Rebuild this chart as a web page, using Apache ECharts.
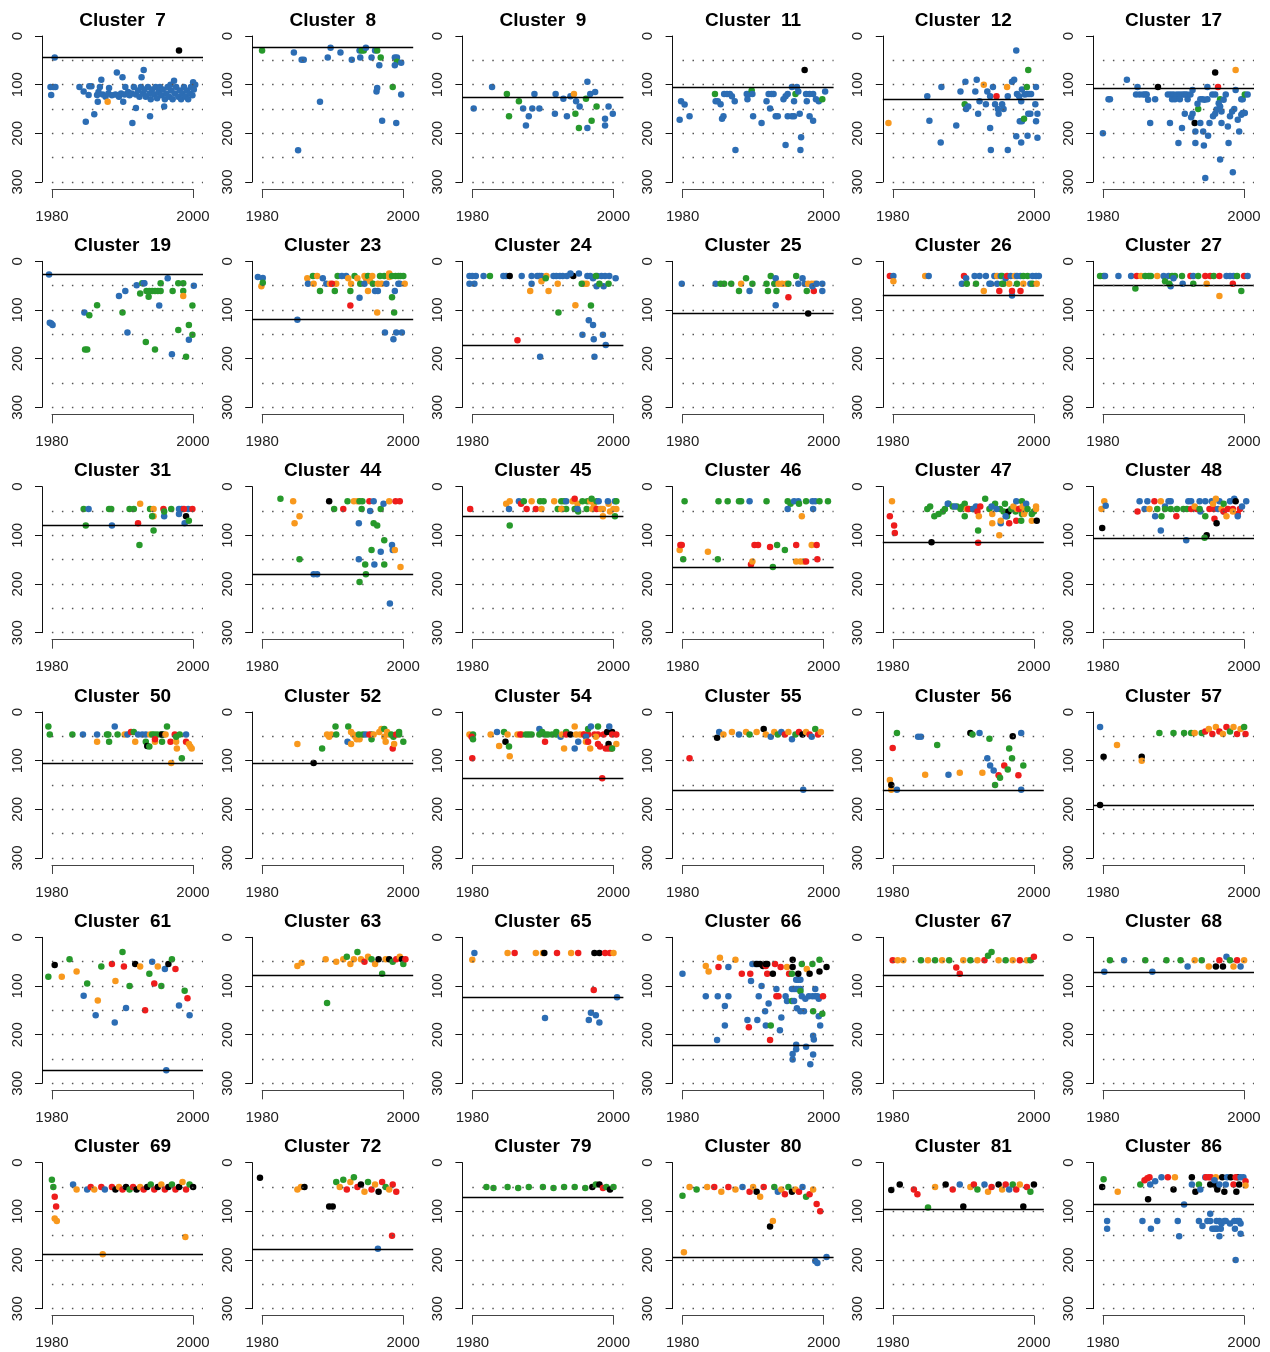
<!DOCTYPE html>
<html>
<head>
<meta charset="utf-8">
<script src="https://cdn.jsdelivr.net/npm/echarts@6.0.0/dist/echarts.min.js"></script>
<style>
html, body { margin: 0; padding: 0; background: #fff; }
#main { width: 1270px; height: 1352px; }
</style>
</head>
<body>
<div id="main"></div>
<script>
// panels, in reading order
var clusterIds = [7, 8, 9, 11, 12, 17, 19, 23, 24, 25, 26, 27, 31, 44, 45, 46, 47, 48,
  50, 52, 54, 55, 56, 57, 61, 63, 65, 66, 67, 68, 69, 72, 79, 80, 81, 86]
// value of the solid horizontal line in each panel
var cutoffs = [44, 24, 125, 105, 130, 107, 27, 120, 172, 106, 70, 50, 80, 180, 61, 165, 115, 105,
  105, 105, 136, 160, 160, 191, 273, 77, 123, 221, 77, 71, 188, 177, 71, 194, 95, 86]
var yTicks = [0, 100, 200, 300]
var xTicks = [1980, 2000]
var dottedAt = [50, 100, 150, 200, 250, 300]
// point = [year, value, colour code] ; 0 blue, 1 green, 2 orange, 3 red, 4 black
var c7 = [[1998.0,30,4],[1980.4,44,0],[1979.8,105,0],[1980.2,105,0],[1980.5,105,0],[1979.9,121,0],
  [1983.9,105,0],[1984.5,114,0],[1985.2,121,0],[1985.3,103,0],[1985.6,103,0],[1984.8,176,0],[1986.0,161,0],
  [1986.5,135,0],[1987.0,90,0],[1986.4,121,0],[1986.8,105,0],[1988.1,107,0],[1989.2,75,0],[1990.0,85,0],
  [1990.4,105,0],[1990.1,135,0],[1991.4,179,0],[1991.9,148,0],[1992.7,85,0],[1993.0,70,0],[1993.9,165,0],
  [1995.9,145,0],[1997.3,92,0],[2000.0,95,0],
  [1986.6,115,0],[1987.2,120,0],[1987.6,125,0],[1988.0,118,0],[1988.5,122,0],[1989.0,120,0],[1989.5,125,0],
  [1989.8,118,0],[1990.3,120,0],[1990.8,115,0],[1991.0,122,0],[1991.3,118,0],[1991.6,105,0],[1991.9,120,0],
  [1992.2,112,0],[1992.4,125,0],[1992.6,105,0],[1992.9,118,0],[1993.1,110,0],[1993.3,125,0],[1993.6,105,0],
  [1993.8,118,0],[1994.0,130,0],[1994.2,110,0],[1994.5,120,0],[1994.7,105,0],[1994.9,128,0],[1995.1,115,0],
  [1995.3,105,0],[1995.5,122,0],[1995.7,110,0],[1996.0,130,0],[1996.2,118,0],[1996.4,105,0],[1996.6,125,0],
  [1996.9,112,0],[1997.1,130,0],[1997.4,118,0],[1997.6,105,0],[1997.9,125,0],[1998.1,112,0],[1998.3,130,0],
  [1998.5,118,0],[1998.7,105,0],[1998.9,125,0],[1999.1,112,0],[1999.3,130,0],[1999.5,118,0],[1999.7,105,0],
  [1999.9,122,0],[2000.1,110,0],[2000.3,100,0],[1996.8,100,0],[1987.9,135,2]]
var c8 = [[1980,30,1],[1984.5,34,0],[1985.6,49,0],[1985.9,49,0],[1988.2,135,0],[1989.3,44,0],[1989.7,24,0],
  [1991.1,34,0],[1992.7,49,0],[1993.9,44,0],[1993.8,30,0],[1994.1,30,1],[1994.4,30,1],[1994.7,24,0],[1995.5,44,0],
  [1996.0,30,0],[1996.3,30,1],[1996.8,44,1],[1996.3,107,0],[1996.2,114,0],[1996.6,60,0],[1997.0,174,0],
  [1998.8,44,0],[1999.1,44,0],[1998.5,105,1],[1999.1,53,1],[1998.8,60,0],[1999.7,55,0],[1999.7,120,0],
  [1999.0,179,0],[1985.1,235,0]]
var c9 = [[1980.2,149,0],[1982.8,105,0],[1984.9,119,1],[1985.2,165,1],[1986.6,134,1],[1987.2,149,0],[1987.6,184,0],
  [1988.0,165,0],[1988.5,149,0],[1988.8,119,0],[1989.5,149,0],[1991.7,160,0],[1991.8,119,0],[1992.9,129,0],
  [1993.4,165,0],[1993.9,124,0],[1994.4,119,2],[1994.7,134,0],[1994.6,160,1],[1995.2,145,0],[1995.1,189,1],
  [1996.1,129,1],[1996.3,94,0],[1996.3,189,0],[1996.7,119,0],[1997.4,115,0],[1996.9,174,1],[1997.6,145,1],
  [1998.8,170,0],[1998.8,184,0],[1999.3,145,0],[1999.9,160,0]]
var c11 = [[1979.8,134,0],[1980.3,141,0],[1979.6,172,0],[1981.0,165,0],[1984.6,119,1],[1984.7,134,0],[1985.0,134,0],
  [1985.4,140,0],[1985.6,170,0],[1985.8,165,0],[1985.9,119,0],[1986.3,119,0],[1986.7,119,0],[1987.0,124,0],
  [1987.4,134,0],[1987.5,234,0],[1989.1,119,0],[1989.4,119,0],[1989.2,130,0],[1989.8,112,1],[1989.9,119,0],
  [1990.0,165,0],[1991.2,179,0],[1991.9,134,0],[1992.2,119,0],[1992.6,119,0],[1992.9,119,0],[1992.4,149,0],
  [1993.2,165,0],[1993.5,165,0],[1994.3,130,0],[1994.6,124,0],[1994.9,119,0],[1994.6,224,0],[1994.9,165,0],
  [1995.5,165,0],[1995.8,165,0],[1995.5,105,0],[1995.8,134,0],[1996.0,119,1],[1996.2,105,0],[1996.4,114,0],
  [1996.6,160,0],[1996.8,208,0],[1996.7,234,0],[1997.3,70,4],[1997.5,119,0],[1997.6,134,0],[1998.0,119,0],
  [1998.5,119,0],[1998.0,165,0],[1998.5,174,0],[1998.9,130,0],[1999.3,134,0],[1999.8,130,1],[2000.2,114,0]]
var c12 = [[1979.4,179,2],[1984.9,124,0],[1985.2,174,0],[1986.9,105,0],[1986.8,219,0],[1989.0,184,0],[1989.6,114,0],
  [1990.2,140,1],[1990.3,94,0],[1990.4,150,0],[1990.7,145,0],[1991.7,114,0],[1991.9,90,0],[1992.1,160,0],
  [1992.3,134,0],[1992.9,100,2],[1993.2,140,0],[1993.4,114,0],[1993.8,124,0],[1993.8,189,0],[1993.9,234,0],
  [1994.2,105,0],[1994.5,140,0],[1994.9,150,0],[1995.0,160,0],[1994.7,124,3],[1995.5,140,0],[1995.7,150,0],
  [1996.2,105,2],[1996.3,124,0],[1996.3,234,0],[1996.9,94,0],[1997.2,90,0],[1997.5,30,0],[1997.6,119,0],
  [1997.9,124,0],[1998.2,134,0],[1997.5,206,0],[1998.0,175,0],[1998.3,175,0],[1998.2,219,0],[1998.6,170,1],
  [1998.3,110,0],[1998.7,120,0],[1999.2,70,1],[1999.0,105,1],[1999.0,119,0],[1999.3,119,0],[1999.6,119,0],
  [1999.2,160,0],[1999.5,160,0],[1999.1,205,0],[2000.2,140,0],[2000.3,105,0],[2000.5,160,0],[2000.3,175,0],
  [2000.5,209,0]]
var c17 = [[1980.0,200,0],[1980.8,130,0],[1981.0,130,0],[1983.4,90,0],[1984.9,105,0],[1984.7,120,0],[1985.2,120,0],
  [1985.7,120,0],[1986.0,120,0],[1986.2,120,0],[1986.4,131,0],[1986.7,179,0],[1987.4,130,0],[1987.8,105,4],
  [1989.2,120,0],[1989.6,120,0],[1990.0,120,0],[1990.5,120,0],[1990.9,120,0],[1991.3,120,0],[1991.6,120,0],
  [1991.9,120,0],[1989.8,130,0],[1990.2,130,0],[1990.9,130,0],[1989.5,179,0],[1990.7,220,0],[1991.2,189,0],
  [1991.6,160,0],[1992.0,130,0],[1992.4,120,0],[1992.7,111,0],[1992.5,167,0],[1992.7,160,0],[1993.0,179,4],
  [1993.1,196,0],[1993.1,220,0],[1993.5,150,1],[1993.4,139,0],[1993.8,130,0],[1994.1,130,0],[1994.4,131,0],
  [1994.8,130,0],[1993.8,179,0],[1994.2,196,0],[1994.3,225,0],[1994.5,292,0],[1994.8,105,0],[1995.1,179,0],
  [1994.9,205,0],[1995.5,120,0],[1995.9,120,0],[1995.6,165,0],[1995.9,160,0],[1996.1,151,0],[1995.9,75,4],
  [1996.3,105,3],[1996.6,130,1],[1996.4,138,0],[1996.6,145,0],[1996.8,155,0],[1996.6,254,0],[1996.8,179,0],
  [1997.1,131,0],[1997.4,120,0],[1997.7,186,0],[1997.8,220,0],[1998.0,165,0],[1998.3,155,0],[1998.4,280,0],
  [1998.8,70,2],[1998.8,111,0],[1998.6,150,0],[1999.1,172,0],[1999.3,196,0],[1999.6,130,0],[1999.8,130,0],
  [1999.6,162,0],[1999.8,158,0],[2000.1,158,0],[2000.1,120,1],[2000.5,120,0]]
var c19 = [[1979.6,27,0],[1979.7,126,0],[1979.9,128,0],[1980.1,131,0],[1984.6,105,0],[1984.7,181,1],[1985.0,181,1],
  [1985.3,111,1],[1986.4,90,1],[1989.5,71,0],[1990.0,105,1],[1990.4,61,0],[1990.7,146,0],[1992.0,49,0],[1992.5,66,1],
  [1992.8,45,1],[1993.0,45,0],[1993.1,45,0],[1993.3,166,1],[1993.7,73,1],[1993.4,61,1],[1993.8,61,1],[1994.2,61,1],
  [1994.6,61,1],[1995.0,61,1],[1995.4,61,1],[1994.6,181,1],[1995.2,91,0],[1995.4,45,1],[1996.4,35,0],[1997.1,61,1],
  [1997.0,191,0],[1997.9,141,1],[1997.9,45,1],[1998.6,45,1],[1998.6,61,1],[1998.6,71,2],[1999.0,196,1],[1999.4,161,0],
  [1999.4,131,1],[1999.9,151,1],[1999.9,91,1],[2000.1,50,0]]
var c23 = [[1979.4,32,0],[1980.1,34,0],[1979.9,51,2],[1980.1,44,1],[1985.0,120,0],[1986.4,35,2],[1986.5,46,0],
  [1987.3,46,2],[1987.2,30,1],[1987.8,30,2],[1988.6,35,0],[1988.2,61,1],[1989.1,46,0],[1989.6,46,2],[1990.5,46,2],
  [1989.9,46,3],[1990.3,61,1],[1990.7,30,1],[1991.3,30,0],[1991.9,30,0],[1992.2,35,2],[1992.5,91,3],[1992.5,61,1],
  [1992.6,46,2],[1993.1,30,1],[1993.5,35,2],[1993.8,75,0],[1993.9,46,1],[1994.5,30,2],[1994.7,35,2],[1994.5,46,0],
  [1995.0,30,1],[1995.0,61,2],[1995.3,41,2],[1995.6,30,2],[1995.7,46,1],[1996.0,61,0],[1996.4,61,0],[1996.3,105,2],
  [1996.4,46,2],[1996.9,46,2],[1996.7,30,1],[1997.3,30,1],[1997.6,46,0],[1997.4,146,0],[1998.0,25,2],[1998.0,32,2],
  [1998.4,30,1],[1998.9,30,1],[1999.3,30,1],[1999.6,30,1],[2000.0,30,1],[1998.4,74,1],[1998.7,105,1],[1998.6,160,0],
  [1998.8,61,0],[1999.0,146,0],[1999.8,146,0],[1999.3,46,0],[1999.5,46,0],[2000.2,46,2]]
var c24 = [[1979.6,30,0],[1980.0,30,0],[1980.5,30,0],[1979.6,46,0],[1980.3,46,0],[1981.6,30,0],[1982.5,30,1],
  [1984.4,30,0],[1984.8,30,0],[1985.3,30,4],[1986.4,162,3],[1987.0,30,0],[1988.2,61,2],[1988.4,46,0],[1988.4,30,0],
  [1989.2,30,0],[1989.5,30,0],[1989.8,30,0],[1989.8,41,2],[1989.6,196,0],[1990.5,30,2],[1990.4,35,1],[1990.8,61,2],
  [1991.5,30,0],[1991.9,30,0],[1992.4,30,0],[1992.8,30,0],[1993.4,30,0],[1992.1,46,2],[1992.2,105,1],[1994.3,30,4],
  [1993.9,25,0],[1995.1,25,0],[1994.6,90,2],[1995.6,151,0],[1995.8,46,2],[1996.2,46,2],[1995.5,46,1],[1996.3,30,0],
  [1996.7,30,0],[1997.1,35,0],[1997.7,30,0],[1998.3,30,0],[1998.8,30,0],[1999.4,30,0],[1996.8,91,1],[1996.5,121,0],
  [1997.1,131,0],[1997.2,160,0],[1997.3,196,0],[1997.5,30,1],[1997.6,51,0],[1998.6,51,0],[1998.0,46,1],[1999.3,46,1],
  [1998.5,151,0],[1998.9,172,0],[2000.3,35,0]]
var c25 = [[1979.9,46,0],[1984.7,46,0],[1985.4,46,1],[1985.9,46,1],[1986.9,46,1],[1988.3,46,2],[1988.0,61,1],
  [1989.0,35,1],[1989.5,61,0],[1989.9,46,1],[1991.9,46,1],[1992.1,61,1],[1992.5,30,1],[1993.0,46,1],[1993.3,61,1],
  [1993.2,35,0],[1993.2,90,0],[1993.6,46,2],[1994.1,46,2],[1994.7,46,2],[1995.0,46,1],[1995.0,74,3],[1996.1,30,1],
  [1996.4,46,0],[1997.0,35,0],[1997.3,46,0],[1997.6,61,1],[1997.8,46,2],[1998.3,46,2],[1998.7,46,2],[1997.8,107,4],
  [1998.6,61,3],[1998.4,51,0],[1999.0,46,0],[1999.8,46,0],[1999.8,61,0]]
var c26 = [[1979.6,30,3],[1980.1,30,0],[1980.1,41,2],[1984.6,30,2],[1985.1,30,0],[1989.8,46,0],[1990.1,30,3],
  [1990.4,35,0],[1990.5,46,1],[1991.6,30,0],[1992.3,30,0],[1991.8,46,1],[1992.9,61,2],[1993.2,30,0],[1993.7,46,0],
  [1993.9,46,0],[1994.4,30,0],[1994.8,30,2],[1994.8,46,0],[1995.1,61,3],[1995.3,30,0],[1995.5,30,1],[1995.5,46,1],
  [1995.7,46,1],[1996.0,35,0],[1996.2,30,3],[1996.5,46,2],[1996.7,30,0],[1996.9,70,0],[1996.9,61,3],[1997.3,30,2],
  [1997.6,46,1],[1997.6,30,0],[1998.1,30,0],[1998.1,61,3],[1998.5,46,2],[1998.5,30,1],[1999.1,30,1],[1999.5,46,0],
  [1999.8,46,1],[1999.8,30,0],[2000.3,30,0],[2000.7,30,0],[2000.4,46,2]]
var c27 = [[1979.6,30,1],[1980.1,30,1],[1980.3,30,0],[1982.2,30,0],[1984.0,30,0],[1984.8,30,3],[1984.6,56,1],
  [1985.4,30,2],[1986.0,30,1],[1986.5,30,1],[1986.8,30,1],[1987.7,30,2],[1988.6,30,0],[1988.8,41,1],[1989.3,30,0],
  [1989.6,51,0],[1989.4,46,1],[1989.8,30,1],[1990.2,30,1],[1990.0,35,0],[1991.2,30,1],[1991.3,46,0],[1992.4,30,3],
  [1992.8,46,1],[1992.8,30,0],[1993.5,30,1],[1994.7,46,2],[1994.5,30,3],[1995.2,30,3],[1995.7,30,1],[1996.5,30,3],
  [1996.5,71,2],[1997.5,30,0],[1998.0,30,0],[1998.5,30,0],[1998.4,46,3],[1999.0,30,1],[1999.6,61,1],[2000.0,30,3],
  [2000.5,30,0]]
var c31 = [[1984.5,46,1],[1985.2,46,0],[1984.8,80,1],[1988.1,46,1],[1988.4,46,1],[1988.5,80,0],[1991.0,46,1],
  [1991.6,46,1],[1992.5,35,2],[1992.2,75,3],[1992.4,120,1],[1993.9,46,1],[1994.4,46,2],[1994.4,61,2],[1994.2,61,1],
  [1994.4,90,1],[1995.8,46,3],[1995.9,61,0],[1995.9,51,1],[1996.9,46,1],[1998.0,46,0],[1998.0,56,0],[1998.4,46,0],
  [1999.3,46,0],[1998.7,46,3],[1999.9,46,3],[1998.8,75,0],[1999.0,61,4],[1999.4,70,1]]
var c44 = [[1982.6,25,1],[1984.4,30,2],[1984.6,75,2],[1985.3,61,2],[1985.3,149,1],[1987.3,180,0],[1987.8,180,0],
  [1989.5,30,4],[1990.2,46,1],[1991.5,46,3],[1992.1,30,1],[1993.0,30,2],[1993.5,30,2],[1993.8,30,1],[1994.2,30,1],
  [1993.7,75,0],[1993.7,149,0],[1993.8,196,1],[1994.1,46,1],[1994.6,160,1],[1994.7,180,1],[1995.2,30,3],[1995.8,30,0],
  [1995.3,50,0],[1995.5,130,1],[1995.8,75,1],[1996.3,80,1],[1995.9,160,0],[1996.8,134,0],[1996.8,46,1],[1997.2,35,0],
  [1997.3,160,1],[1997.3,110,1],[1998.0,30,2],[1998.9,30,3],[1999.5,30,3],[1998.4,120,0],[1998.5,130,0],[1998.8,130,2],
  [1998.1,240,0],[1999.6,165,2]]
var c45 = [[1979.7,46,3],[1984.8,35,2],[1985.3,30,2],[1985.2,46,0],[1985.3,80,1],[1986.6,30,0],[1986.9,35,3],
  [1987.3,30,1],[1987.7,46,3],[1988.4,30,2],[1989.0,46,3],[1989.6,30,1],[1990.1,30,1],[1989.8,46,2],[1991.6,30,2],
  [1992.1,46,1],[1992.7,46,1],[1993.3,46,1],[1992.6,30,1],[1993.0,30,1],[1993.3,30,0],[1992.6,46,2],[1994.2,30,2],
  [1994.9,35,2],[1994.5,25,3],[1994.5,46,1],[1995.0,51,1],[1994.9,46,0],[1995.6,30,1],[1996.3,30,1],[1996.2,46,1],
  [1996.7,30,2],[1997.2,35,2],[1996.9,25,1],[1997.0,46,2],[1997.6,30,1],[1997.6,46,3],[1997.9,30,0],[1998.2,46,2],
  [1998.5,46,2],[1998.5,61,2],[1999.3,35,2],[1999.5,51,2],[1999.2,30,0],[2000.2,30,0],[2000.4,30,1],[2000.2,61,1],
  [2000.0,46,2],[2000.4,46,2]]
var c46 = [[1980.3,30,1],[1979.6,130,2],[1979.7,120,3],[1979.9,120,3],[1980.1,149,1],[1983.6,134,2],[1985.1,30,1],
  [1986.4,30,1],[1985.0,149,1],[1988.0,30,1],[1988.3,30,1],[1989.5,30,0],[1989.7,160,3],[1989.9,154,2],[1990.2,120,3],
  [1990.7,120,3],[1991.9,30,1],[1992.4,124,3],[1992.8,165,1],[1993.4,120,1],[1994.5,130,1],[1994.9,30,1],[1995.3,35,1],
  [1994.9,46,0],[1995.8,30,0],[1996.4,30,0],[1996.1,120,3],[1996.1,154,2],[1996.7,154,2],[1997.2,154,2],[1996.5,35,1],
  [1997.5,30,1],[1996.9,61,2],[1997.5,154,3],[1998.3,120,2],[1998.4,30,0],[1998.8,30,0],[1998.5,46,0],[1999.0,120,3],
  [1999.1,149,3],[1999.4,30,1],[2000.6,30,1]]
var c47 = [[1979.9,30,2],[1979.6,61,3],[1980.2,80,3],[1980.3,95,3],[1984.9,46,1],[1985.3,41,1],[1985.5,114,4],
  [1985.9,61,1],[1986.5,56,1],[1987.1,51,1],[1987.4,46,1],[1987.9,35,1],[1987.8,35,0],[1988.5,41,1],[1989.1,41,1],
  [1989.6,46,1],[1989.9,41,1],[1988.8,41,0],[1990.2,61,1],[1990.2,35,1],[1990.8,46,1],[1991.3,46,1],[1990.5,46,2],
  [1990.7,46,3],[1991.4,46,0],[1991.8,41,0],[1992.0,51,3],[1992.1,115,3],[1992.1,90,1],[1992.4,41,3],[1992.2,61,2],
  [1993.1,25,1],[1993.7,46,1],[1994.5,35,1],[1995.2,46,1],[1994.0,41,0],[1994.7,46,0],[1994.1,56,2],[1994.1,75,2],
  [1995.1,100,2],[1995.3,75,0],[1995.3,70,2],[1995.7,51,1],[1995.9,35,1],[1996.2,61,1],[1996.4,51,4],[1996.0,61,0],
  [1996.5,75,3],[1996.8,46,1],[1997.4,51,1],[1997.9,46,1],[1998.3,56,1],[1997.1,41,2],[1997.6,46,2],[1997.5,70,3],
  [1997.5,30,0],[1997.9,46,3],[1998.2,70,1],[1998.3,30,1],[1998.4,41,2],[1998.6,56,2],[1998.7,51,2],[1998.9,35,0],
  [1999.1,46,1],[1999.7,56,1],[2000.0,51,1],[1999.7,70,2],[2000.3,41,2],[2000.3,46,2],[2000.4,70,4]]
var c48 = [[1979.8,46,2],[1980.2,30,2],[1980.4,39,0],[1979.9,85,4],[1984.9,51,3],[1985.2,30,0],[1985.9,46,0],
  [1986.6,46,2],[1986.3,30,0],[1987.3,30,3],[1987.4,61,0],[1987.7,46,1],[1988.2,30,2],[1988.2,90,0],[1988.3,61,1],
  [1988.8,41,0],[1989.3,30,0],[1989.6,30,0],[1988.8,46,1],[1989.6,46,1],[1990.5,46,1],[1990.4,61,3],[1991.4,46,1],
  [1991.9,46,1],[1991.8,110,0],[1992.1,30,0],[1992.5,30,0],[1993.7,30,0],[1994.5,30,0],[1993.8,51,0],[1992.5,46,3],
  [1993.3,46,3],[1993.0,41,2],[1993.7,46,1],[1994.5,61,1],[1994.7,100,4],[1994.4,105,1],[1995.1,46,3],[1995.7,46,3],
  [1995.4,30,0],[1996.5,30,0],[1995.6,35,2],[1996.0,25,2],[1995.8,66,3],[1996.1,75,4],[1996.3,46,0],[1997.1,51,0],
  [1996.8,46,2],[1997.1,35,1],[1997.1,51,3],[1997.7,46,3],[1997.5,61,2],[1998.0,30,0],[1998.6,25,0],[1998.4,46,3],
  [1999.1,56,3],[1998.8,30,4],[1999.1,61,0],[1999.4,46,3],[1998.4,51,2],[1999.7,41,0],[2000.3,30,0]]
var c50 = [[1979.5,30,1],[1979.7,46,1],[1982.9,46,1],[1984.4,46,0],[1986.4,46,0],[1986.4,61,2],[1987.8,46,1],
  [1988.0,46,1],[1988.1,61,1],[1988.9,30,0],[1989.3,46,1],[1990.3,46,2],[1990.7,46,0],[1991.2,41,3],[1991.6,41,1],
  [1991.8,61,2],[1992.2,46,0],[1992.8,46,0],[1993.3,46,0],[1993.3,61,1],[1993.5,70,4],[1993.8,71,1],[1993.9,46,2],
  [1994.2,46,1],[1994.5,46,1],[1994.9,46,1],[1995.4,46,1],[1995.8,46,1],[1994.6,61,2],[1994.6,56,3],[1995.6,46,4],
  [1995.6,61,1],[1996.1,46,2],[1996.3,30,1],[1996.8,61,3],[1996.9,105,2],[1997.4,46,3],[1997.6,61,2],[1997.7,75,2],
  [1997.6,51,1],[1998.1,46,1],[1998.4,95,1],[1999.0,46,0],[1999.0,61,3],[1999.4,66,2],[1999.6,71,2],[1999.8,75,2]]
var c52 = [[1985.0,66,2],[1987.3,105,4],[1988.5,75,1],[1989.2,46,2],[1989.8,46,2],[1989.5,51,2],[1990.4,30,1],
  [1990.5,46,1],[1992.2,30,1],[1992.1,61,0],[1992.6,41,2],[1992.9,46,2],[1993.2,51,2],[1992.6,66,2],[1993.4,56,2],
  [1993.8,56,2],[1993.7,46,1],[1994.3,46,1],[1995.5,46,1],[1995.5,56,1],[1994.7,46,0],[1995.2,46,3],[1995.8,46,2],
  [1996.6,41,2],[1996.9,35,2],[1997.3,51,2],[1997.5,61,2],[1997.3,35,1],[1997.7,41,2],[1998.0,46,2],[1998.3,46,1],
  [1998.6,51,1],[1998.5,75,3],[1998.7,66,2],[1999.0,46,3],[1999.4,41,1],[1999.4,46,1],[2000.0,61,1]]
var c54 = [[1979.6,46,2],[1980.1,46,1],[1979.9,51,3],[1980.1,56,1],[1980.0,95,3],[1982.6,46,2],[1983.5,41,0],
  [1983.8,70,2],[1984.5,41,1],[1984.7,61,4],[1985.0,46,2],[1985.2,71,1],[1985.3,91,2],[1986.4,46,2],[1987.0,46,2],
  [1986.8,46,3],[1987.6,46,1],[1988.0,46,1],[1988.4,46,1],[1989.5,35,0],[1989.5,46,1],[1989.9,41,1],[1990.3,46,1],
  [1990.7,46,1],[1991.3,46,1],[1991.9,46,1],[1990.3,61,3],[1991.9,41,1],[1992.5,51,0],[1992.7,46,2],[1993.0,75,2],
  [1993.3,41,1],[1993.3,46,3],[1993.9,46,4],[1994.5,30,2],[1994.5,75,0],[1994.7,46,2],[1995.3,46,2],[1995.8,46,2],
  [1995.0,61,0],[1995.8,46,3],[1996.4,46,3],[1996.1,51,0],[1996.1,61,2],[1996.7,75,2],[1996.4,61,3],[1996.4,35,1],
  [1996.8,30,0],[1997.3,46,3],[1997.8,46,3],[1997.8,30,1],[1997.8,66,3],[1998.1,71,3],[1997.5,51,2],[1998.6,46,3],
  [1998.9,75,3],[1998.4,136,3],[1999.1,41,4],[1999.8,41,4],[1999.3,66,4],[1999.4,30,0],[1999.3,75,3],[1999.7,75,3],
  [1999.8,46,3],[2000.4,46,3],[2000.4,66,2],[1999.8,75,1]]
var c55 = [[1981.0,95,3],[1984.9,53,4],[1985.2,41,0],[1985.8,46,2],[1987.0,41,2],[1988.0,46,0],[1989.0,41,2],
  [1989.5,46,1],[1990.5,41,2],[1991.5,35,4],[1991.8,46,2],[1992.5,51,0],[1993.0,41,2],[1993.5,46,1],[1994.0,41,0],
  [1994.5,46,3],[1995.0,41,2],[1995.5,56,0],[1996.0,46,1],[1996.5,41,3],[1997.0,46,4],[1997.5,41,2],[1998.0,46,3],
  [1998.3,51,0],[1998.8,35,1],[1999.2,46,3],[1999.6,41,2],[1997.1,160,0]]
var c56 = [[1980.0,74,3],[1979.6,140,2],[1979.8,160,2],[1979.8,150,4],[1980.6,43,1],[1983.6,51,0],[1984.0,51,0],
  [1984.6,129,2],[1980.6,160,0],[1986.3,68,1],[1987.9,129,0],[1989.5,125,2],[1991.0,43,4],[1991.3,46,1],[1992.3,43,0],
  [1992.7,125,2],[1993.4,95,0],[1993.8,110,0],[1994.3,120,0],[1993.7,55,1],[1994.5,150,1],[1995.0,130,3],
  [1995.8,110,3],[1995.2,135,1],[1996.3,118,1],[1996.5,75,1],[1996.9,95,1],[1997.0,50,4],[1998.2,43,0],
  [1997.8,130,3],[1998.2,160,0],[1998.5,110,1]]
var c57 = [[1979.6,31,0],[1980.1,92,4],[1979.6,191,4],[1982.0,68,2],[1985.5,92,4],[1985.5,100,2],[1988.0,43,1],
  [1990.0,43,1],[1991.5,43,1],[1992.5,43,1],[1993.0,43,2],[1994.0,43,1],[1994.5,40,3],[1995.0,35,2],[1995.5,45,3],
  [1996.0,31,2],[1996.5,40,3],[1997.0,45,2],[1997.5,31,3],[1998.0,40,1],[1998.5,31,2],[1999.0,45,3],[1999.5,35,2],
  [2000.0,31,1],[2000.2,45,3]]
var c61 = [[1980.4,57,4],[1979.5,81,1],[1981.4,81,2],[1982.5,45,1],[1983.5,70,2],[1984.5,120,0],[1985.0,95,1],
  [1986.2,160,0],[1986.5,130,2],[1987.0,60,1],[1988.5,55,3],[1988.9,175,0],[1989.0,90,2],[1990.0,30,1],[1990.2,60,3],
  [1990.5,145,0],[1991.0,100,1],[1991.8,55,4],[1992.5,60,2],[1993.2,150,3],[1993.8,75,1],[1994.2,50,0],[1994.5,95,3],
  [1995.0,60,2],[1995.5,100,1],[1996.0,65,0],[1996.5,55,4],[1997.0,45,1],[1997.5,65,3],[1998.0,140,0],[1998.8,110,1],
  [1999.2,125,3],[1999.5,160,0],[1996.2,273,0]]
var c63 = [[1985.0,59,2],[1985.6,52,2],[1989.0,45,2],[1989.2,135,1],[1990.5,50,2],[1991.5,45,2],[1992.0,40,1],
  [1992.5,55,2],[1993.0,45,2],[1993.5,30,1],[1994.0,45,2],[1994.5,50,3],[1995.0,40,2],[1995.5,45,1],[1996.0,55,2],
  [1996.5,45,4],[1997.0,75,1],[1997.5,45,2],[1998.0,45,4],[1998.5,50,1],[1999.0,45,3],[1999.5,40,2],[1999.8,45,4],
  [2000.0,55,1],[2000.3,45,3]]
var c65 = [[1980.3,32,0],[1980.0,46,2],[1985.0,32,2],[1986.0,32,3],[1989.0,32,2],[1990.0,32,2],[1990.2,32,4],
  [1992.0,32,3],[1994.0,32,2],[1995.0,32,3],[1997.3,32,4],[1998.0,32,4],[1998.8,32,3],[1999.5,32,3],[2000.0,32,2],
  [1990.3,166,0],[1996.5,170,0],[1996.8,155,0],[1997.5,160,0],[1998.0,175,0],[1997.2,108,3],[2000.5,123,0]]
var c66 = [[1980.0,75,0],[1983.3,59,2],[1983.7,70,2],[1985.3,42,2],[1985.1,61,3],[1983.3,121,0],[1985.0,121,0],
  [1984.9,211,0],[1986.0,141,0],[1986.0,181,0],[1986.5,61,0],[1986.5,121,0],[1987.5,46,2],[1988.4,75,3],[1989.6,75,3],
  [1989.2,170,0],[1989.4,185,3],[1989.7,90,0],[1989.9,55,0],[1990.3,55,0],[1990.7,55,0],[1990.5,55,4],[1991.0,55,4],
  [1991.4,59,4],[1990.6,170,0],[1990.8,121,0],[1991.2,100,0],[1991.7,152,0],[1991.8,59,3],[1991.8,181,0],[1991.8,55,4],
  [1992.0,55,4],[1992.2,136,0],[1992.0,75,3],[1992.5,181,1],[1992.4,211,3],[1992.8,75,4],[1993.1,55,3],[1993.3,106,0],
  [1993.8,191,0],[1993.9,61,3],[1994.0,165,0],[1993.3,121,3],[1993.6,121,3],[1994.6,121,0],[1994.8,131,0],[1994.8,61,2],
  [1995.1,75,3],[1995.6,46,4],[1995.6,61,4],[1995.5,75,1],[1995.5,106,0],[1995.8,106,0],[1996.1,106,0],[1996.4,106,0],
  [1996.7,106,0],[1995.5,131,1],[1995.8,131,0],[1996.1,87,0],[1996.4,87,0],[1996.7,87,0],[1996.1,221,0],[1996.1,230,0],
  [1995.6,240,0],[1995.6,251,0],[1996.2,146,0],[1996.7,152,0],[1997.2,152,0],[1996.7,111,1],[1996.4,75,4],[1996.9,55,1],
  [1996.9,121,0],[1997.4,126,0],[1997.9,121,0],[1997.6,65,2],[1997.5,225,0],[1998.0,75,4],[1998.1,261,0],[1998.5,241,0],
  [1998.5,202,0],[1998.6,210,0],[1998.4,121,0],[1998.8,121,0],[1999.1,121,0],[1999.3,126,0],[1998.4,55,1],[1998.5,152,1],
  [1998.8,106,0],[1999.4,70,4],[1999.4,46,1],[1999.3,162,0],[1999.5,181,0],[1999.9,121,3],[1999.8,157,1],[2000.4,61,4]]
var c67 = [[1980.0,47,3],[1980.7,47,2],[1981.5,47,2],[1984.0,47,1],[1985.0,47,2],[1986.0,47,1],[1987.0,47,2],
  [1988.0,47,1],[1989.0,62,3],[1989.5,75,3],[1990.0,47,2],[1991.0,47,1],[1992.0,47,2],[1993.0,47,3],[1993.5,38,1],
  [1994.0,30,1],[1995.0,47,2],[1996.0,47,1],[1997.0,47,2],[1998.0,47,3],[1999.0,47,2],[1999.5,47,1],[2000.0,40,3]]
var c68 = [[1980.2,71,0],[1981.0,47,1],[1983.0,47,0],[1986.0,47,1],[1987.0,71,0],[1989.0,47,1],[1991.0,47,1],
  [1992.0,60,0],[1993.0,47,2],[1994.0,47,1],[1995.0,60,2],[1996.0,60,4],[1996.5,47,3],[1997.0,60,4],[1997.5,40,0],
  [1998.0,47,1],[1998.5,60,2],[1999.0,47,3],[1999.5,60,0],[2000.0,47,2]]
var c69 = [[1980.0,35,1],[1980.2,50,1],[1980.4,70,3],[1980.6,90,3],[1980.4,115,2],[1980.7,120,2],[1983.0,45,0],
  [1983.5,55,2],[1985.0,55,0],[1985.5,50,3],[1986.0,55,2],[1987.0,50,3],[1987.5,55,0],[1987.2,188,2],[1988.5,50,3],
  [1989.0,55,4],[1989.5,50,2],[1990.0,55,3],[1990.5,50,4],[1991.0,55,1],[1991.5,50,3],[1992.0,55,4],[1992.5,50,2],
  [1993.0,55,3],[1993.5,50,4],[1994.0,45,1],[1994.5,55,3],[1995.0,50,4],[1995.5,45,2],[1996.0,55,3],[1996.5,50,4],
  [1997.0,45,1],[1997.5,55,3],[1998.0,50,4],[1998.5,40,2],[1999.0,55,3],[1999.5,45,1],[2000.0,50,4],[1998.9,153,2]]
var c72 = [[1979.7,31,4],[1985.0,55,2],[1985.5,50,2],[1986.0,50,4],[1989.5,90,4],[1990.0,90,4],[1990.5,40,1],
  [1991.0,50,2],[1991.5,35,1],[1992.0,55,3],[1992.5,40,2],[1993.0,30,1],[1993.5,50,3],[1994.0,45,4],[1994.5,60,2],
  [1995.0,40,1],[1995.5,55,3],[1996.0,45,2],[1996.5,60,4],[1997.0,40,3],[1997.5,50,1],[1998.0,55,2],[1998.5,45,3],
  [1999.0,60,3],[1998.4,150,3],[1996.4,177,0]]
var c79 = [[1982.0,50,1],[1983.0,52,1],[1985.0,50,1],[1986.5,52,1],[1988.0,50,1],[1990.0,50,1],[1991.5,52,1],
  [1993.0,50,1],[1994.5,50,1],[1996.0,52,1],[1997.0,50,4],[1997.5,45,1],[1998.0,45,4],[1998.5,52,3],[1999.0,50,1],
  [1999.5,55,4],[2000.0,50,1]]
var c80 = [[1980.0,68,1],[1980.2,184,2],[1981.0,50,2],[1982.0,55,1],[1983.5,50,2],[1984.5,50,3],[1985.5,60,2],
  [1986.5,50,3],[1987.5,55,2],[1988.5,50,0],[1989.5,60,3],[1990.0,50,2],[1990.5,60,4],[1991.0,70,2],[1991.5,50,3],
  [1992.4,131,4],[1992.8,120,2],[1993.0,50,1],[1993.5,60,0],[1994.0,55,2],[1994.5,65,3],[1995.0,50,1],[1995.5,60,4],
  [1996.0,55,2],[1996.5,60,3],[1997.0,50,0],[1997.5,70,1],[1998.0,65,3],[1998.5,55,2],[1999.0,85,3],[1999.5,100,3],
  [1998.8,202,0],[1999.1,206,0],[2000.4,194,0]]
var c81 = [[1979.8,56,4],[1981.0,45,4],[1983.0,55,3],[1983.5,65,3],[1985.0,92,1],[1986.0,50,2],[1987.5,45,4],
  [1988.5,55,3],[1989.5,45,0],[1990.0,90,4],[1991.0,50,2],[1991.5,45,3],[1992.0,55,1],[1993.0,45,0],[1993.5,60,2],
  [1994.0,50,3],[1995.0,45,4],[1995.5,55,2],[1996.0,45,3],[1996.5,55,0],[1997.0,45,1],[1997.5,55,3],[1998.0,45,2],
  [1998.5,90,4],[1999.0,50,3],[1999.5,60,1],[2000.0,45,4]]
var c86 = [[1979.9,50,4],[1980.1,34,1],[1980.6,120,0],[1980.6,136,0],[1982.1,60,2],[1985.3,45,1],[1985.6,120,0],
  [1985.9,36,3],[1986.3,32,3],[1986.6,30,3],[1986.7,45,0],[1986.8,136,0],[1986.4,75,4],[1987.4,38,0],[1987.7,120,0],
  [1988.3,30,0],[1989.2,30,3],[1990.0,55,4],[1990.2,30,2],[1990.6,120,0],[1990.8,151,0],[1991.5,86,0],[1992.6,30,4],
  [1992.6,45,0],[1993.1,60,4],[1993.6,120,0],[1993.6,45,1],[1993.8,55,0],[1994.1,130,0],[1994.5,30,0],[1994.6,30,3],
  [1995.0,30,3],[1995.3,30,3],[1994.8,120,0],[1995.2,120,0],[1995.2,105,0],[1995.2,45,4],[1995.8,45,4],[1996.0,45,4],
  [1996.2,50,4],[1995.5,136,0],[1995.8,136,0],[1996.0,136,0],[1996.2,136,0],[1996.7,136,0],[1996.0,30,2],[1995.8,36,0],
  [1996.2,55,4],[1996.1,120,0],[1996.5,120,0],[1996.8,125,0],[1997.2,120,0],[1997.4,120,0],[1996.5,151,0],[1996.5,45,0],
  [1996.9,30,4],[1997.2,60,4],[1997.4,45,0],[1997.6,30,0],[1998.0,125,0],[1998.1,30,4],[1998.5,45,3],[1998.6,120,0],
  [1999.0,120,0],[1999.3,120,0],[1999.5,125,0],[1998.7,136,0],[1998.8,200,0],[1998.9,60,4],[1999.1,30,4],[1998.8,30,3],
  [1999.5,30,0],[1999.9,30,0],[1999.5,146,0],[1999.3,45,4],[2000.2,38,3],[2000.2,47,2]]

var points = [c7, c8, c9, c11, c12, c17, c19, c23, c24, c25, c26, c27, c31, c44, c45, c46, c47, c48,
  c50, c52, c54, c55, c56, c57, c61, c63, c65, c66, c67, c68, c69, c72, c79, c80, c81, c86]

var colours = ['#2c6db4', '#27992b', '#f8981d', '#ee1c1c', '#000000']

var chart = echarts.init(document.getElementById('main'), null, { renderer: 'canvas' })

var colW = 210.2, rowH = 225.33
var xMin = 1978.6, xMax = 2001.4
var font = 'Liberation Sans, Arial, Helvetica, sans-serif'

var titles = [], grids = [], xAxes = [], yAxes = [], series = []

for (var i = 0; i < clusterIds.length; i++) {
  var ox = (i % 6) * colW
  var oy = Math.floor(i / 6) * rowH

  titles.push({
    text: 'Cluster  ' + clusterIds[i],
    left: ox + 122.5, top: oy + 11, textAlign: 'center', padding: 0,
    textStyle: { fontSize: 19, fontWeight: 'bold', color: '#000', fontFamily: font }
  })

  // plotting region (y 0..300)
  grids.push({ left: ox + 42, top: oy + 36, width: 161, height: 146, outerBoundsMode: 'none', containLabel: false })
  // x axis strip (1980..2000 only)
  grids.push({ left: ox + 52, top: oy + 36, width: 141, height: 153, outerBoundsMode: 'none', containLabel: false })

  xAxes.push({
    gridIndex: 2 * i, type: 'value', min: xMin, max: xMax, show: false
  })
  xAxes.push({
    gridIndex: 2 * i + 1, type: 'value', min: xTicks[0], max: xTicks[1], interval: 20,
    axisLine: { show: true, lineStyle: { color: '#444', width: 1 } },
    axisTick: { show: true, length: 9, lineStyle: { color: '#444', width: 1 } },
    axisLabel: { show: true, fontSize: 15, color: '#222', margin: 20, fontFamily: font,
      formatter: function (v) { return String(v) },
      showMinLabel: true, showMaxLabel: true, hideOverlap: false },
    splitLine: { show: false }
  })

  yAxes.push({
    gridIndex: 2 * i, type: 'value', min: yTicks[0], max: yTicks[3], interval: 100, inverse: true,
    axisLine: { show: true, lineStyle: { color: '#111', width: 1 } },
    axisTick: { show: true, length: 7, lineStyle: { color: '#111', width: 1 } },
    axisLabel: { show: true, rotate: 90, fontSize: 15, color: '#222', margin: 17, fontFamily: font,
      formatter: function (v) { return String(v) },
      showMinLabel: true, showMaxLabel: true, hideOverlap: false },
    splitLine: { show: false }
  })
  yAxes.push({ gridIndex: 2 * i + 1, type: 'value', min: 0, max: 1, show: false })

  var lines = [{ yAxis: cutoffs[i], lineStyle: { color: '#000', width: 1.3, type: 'solid' } }]
  for (var k = 0; k < dottedAt.length; k++) {
    lines.push([
      { coord: [xTicks[0], dottedAt[k]], lineStyle: { color: '#555', width: 1.4, type: [1.5, 8.5] } },
      { coord: [xMax, dottedAt[k]] }
    ])
  }

  series.push({
    type: 'scatter',
    xAxisIndex: 2 * i, yAxisIndex: 2 * i,
    data: points[i],
    symbol: 'circle', symbolSize: 6.5,
    itemStyle: { color: function (p) { return colours[p.value[2]] }, opacity: 1 },
    emphasis: { disabled: true },
    silent: true,
    animation: false,
    markLine: {
      silent: true, symbol: ['none', 'none'], animation: false,
      label: { show: false }, emphasis: { disabled: true },
      data: lines
    }
  })
}

chart.setOption({
  backgroundColor: '#fff',
  animation: false,
  title: titles,
  grid: grids,
  xAxis: xAxes,
  yAxis: yAxes,
  series: series
})
</script>
</body>
</html>
